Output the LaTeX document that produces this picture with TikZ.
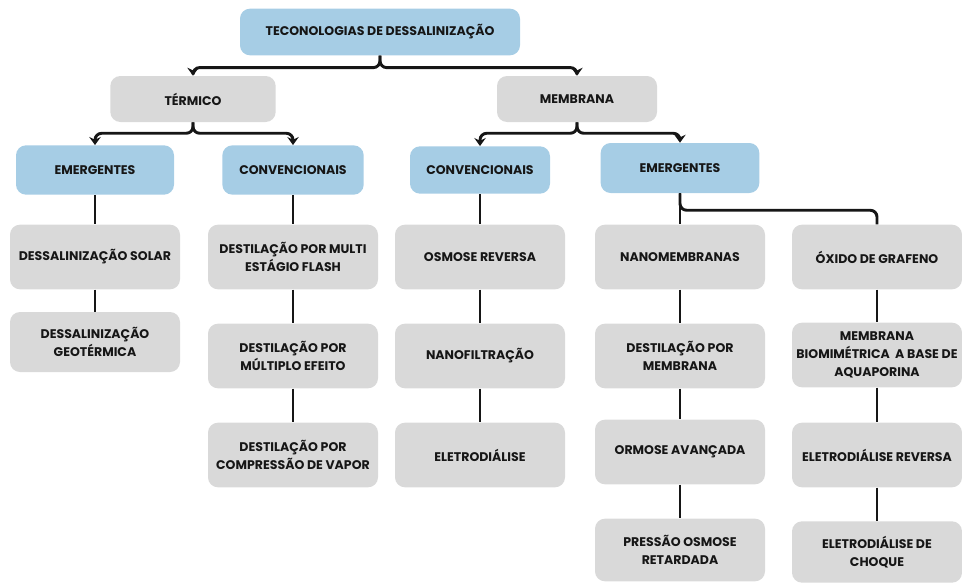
\documentclass[tikz,border=0pt]{standalone}
\usepackage{fontspec}
\setmainfont{Poppins}
\usetikzlibrary{arrows.meta}
\definecolor{boxgrey}{RGB}{217,217,217}
\definecolor{boxblue}{RGB}{166,205,229}
\definecolor{inkdark}{RGB}{22,22,22}
\newcommand{\boxfont}{\fontsize{9.4}{13.5}\selectfont\bfseries}
\begin{document}
\begin{tikzpicture}[x=0.75pt,y=-0.75pt,
    box/.style={rectangle, rounded corners=7.5pt, fill=boxgrey, text=inkdark,
                font=\boxfont, align=center, inner sep=1pt},
    head/.style={box, fill=boxblue},
    leaf/.style={box, minimum width=127.5pt, minimum height=48.5pt},
    link/.style={draw=inkdark, line width=2.2pt},
    branch/.style={link, rounded corners=5pt, -{Stealth[length=6pt,width=8.5pt,inset=2pt]}}
]
    \useasboundingbox (0,0) rectangle (962,585);
    % top levels
    \node[head, minimum width=210pt, minimum height=35pt] (root) at (380,32) {TECONOLOGIAS DE DESSALINIZAÇÃO};
    \node[box, minimum width=124pt, minimum height=34.5pt] (termico) at (193,99) {TÉRMICO};
    \node[box, minimum width=120pt, minimum height=34.5pt] (membrana) at (577,99) {MEMBRANA};
    \node[head, minimum width=118.5pt, minimum height=37pt] (termEmer) at (95,170) {EMERGENTES};
    \node[head, minimum width=106pt, minimum height=37pt] (termConv) at (293,170) {CONVENCIONAIS};
    \node[head, minimum width=105pt, minimum height=35.5pt] (membConv) at (480,170) {CONVENCIONAIS};
    \node[head, minimum width=119pt, minimum height=37.5pt] (membEmer) at (680,168) {EMERGENTES};
    % thermal leaves
    \node[leaf] (solar) at (95,257) {DESSALINIZAÇÃO SOLAR};
    \node[leaf, minimum height=45pt] (geoterm) at (95,342) {DESSALINIZAÇÃO\\GEOTÉRMICA};
    \node[leaf] (msf) at (293,257) {DESTILAÇÃO POR MULTI\\ESTÁGIO FLASH};
    \node[leaf] (med) at (293,356) {DESTILAÇÃO POR\\MÚLTIPLO EFEITO};
    \node[leaf] (vapor) at (293,455) {DESTILAÇÃO POR\\COMPRESSÃO DE VAPOR};
    % membrane leaves
    \node[leaf] (osmose) at (480,257) {OSMOSE REVERSA};
    \node[leaf] (nanofil) at (480,356) {NANOFILTRAÇÃO};
    \node[leaf] (eletro) at (480,455) {ELETRODIÁLISE};
    \node[leaf] (nanomem) at (680,257) {NANOMEMBRANAS};
    \node[leaf] (destMemb) at (680,356) {DESTILAÇÃO POR\\MEMBRANA};
    \node[leaf] (ormose) at (680,452) {ORMOSE AVANÇADA};
    \node[leaf, minimum height=47pt] (pressao) at (680,550) {PRESSÃO OSMOSE\\RETARDADA};
    \node[leaf] (grafeno) at (877,257) {ÓXIDO DE GRAFENO};
    \node[leaf] (aquapor) at (877,355) {MEMBRANA\\BIOMIMÉTRICA \ A BASE DE\\AQUAPORINA};
    \node[leaf] (eletroRev) at (877,455) {ELETRODIÁLISE REVERSA};
    \node[leaf, minimum height=46pt] (choque) at (877,552) {ELETRODIÁLISE DE\\CHOQUE};
    % branching arrows
    \draw[branch] (root.south) -- ++(0,12) -| (termico.north);
    \draw[branch] (root.south) -- ++(0,12) -| (membrana.north);
    \draw[branch] (termico.south) -- ++(0,11) -| (termEmer.north);
    \draw[branch] (termico.south) -- ++(0,11) -| (termConv.north);
    \draw[branch] (membrana.south) -- ++(0,11) -| (membConv.north);
    \draw[branch] (membrana.south) -- ++(0,11) -| (membEmer.north);
    \draw[link, rounded corners=5pt] (membEmer.south) -- ++(0,17) -| (grafeno.north);
    % plain links
    \draw[link] (termEmer) -- (solar) -- (geoterm);
    \draw[link] (termConv) -- (msf) -- (med) -- (vapor);
    \draw[link] (membConv) -- (osmose) -- (nanofil) -- (eletro);
    \draw[link] (membEmer) -- (nanomem) -- (destMemb) -- (ormose) -- (pressao);
    \draw[link] (grafeno) -- (aquapor) -- (eletroRev) -- (choque);
\end{tikzpicture}
\end{document}
